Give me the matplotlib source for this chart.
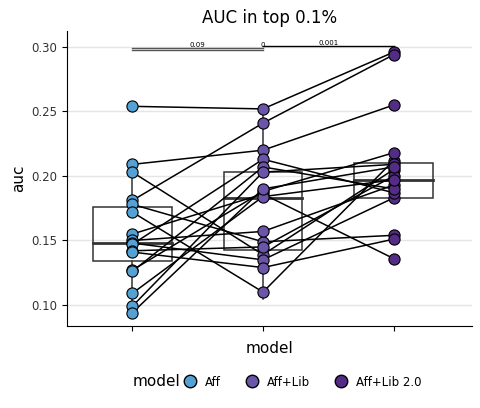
import matplotlib
matplotlib.use("Agg")
import matplotlib.pyplot as plt
import numpy as np
from matplotlib.lines import Line2D

models = ["Aff", "Aff+Lib", "Aff+Lib 2.0"]
colors = ["#56A1D3", "#6A55A8", "#522C85"]
aff    = [0.254, 0.209, 0.203, 0.181, 0.178, 0.172, 0.155, 0.150, 0.148, 0.147, 0.142, 0.141, 0.127, 0.126, 0.109, 0.099, 0.094]
afflib = [0.252, 0.220, 0.139, 0.241, 0.149, 0.110, 0.186, 0.157, 0.135, 0.213, 0.145, 0.129, 0.188, 0.207, 0.184, 0.203, 0.190]
afflib2= [0.296, 0.255, 0.205, 0.294, 0.154, 0.212, 0.136, 0.193, 0.183, 0.187, 0.200, 0.151, 0.218, 0.190, 0.197, 0.209, 0.207]
boxes = [(0.134, 0.148, 0.176, 0.094, 0.209), (0.143, 0.183, 0.203, 0.105, 0.252), (0.183, 0.197, 0.210, 0.183, 0.218)]
pvals = ["0.09", "0", "0.001"]

fig = plt.figure(figsize=(4.8, 4.08), dpi=100)
ax = fig.add_axes([67/480, 1-326/408, 405/480, 295/408])
data = [aff, afflib, afflib2]
xs = [1, 2, 3]
for i in range(len(aff)):
    ax.plot(xs, [aff[i], afflib[i], afflib2[i]], color="black", lw=1.1, zorder=3)
for j, (q1, med, q3, lo, hi) in enumerate(boxes):
    x = xs[j]
    ax.add_patch(plt.Rectangle((x-0.3, q1), 0.6, q3-q1, fill=False, ec="#333333", lw=1.1, zorder=2))
    ax.plot([x-0.3, x+0.3], [med, med], color="#333333", lw=2, zorder=2)
    ax.plot([x, x], [lo, q1], color="#333333", lw=1.1, zorder=2)
    ax.plot([x, x], [q3, hi], color="#333333", lw=1.1, zorder=2)
for j, d in enumerate(data):
    ax.scatter([xs[j]]*len(d), d, s=65, color=colors[j], ec="black", lw=0.8, zorder=4)
# significance
ax.plot([1, 2], [0.2975, 0.2975], color="#555555", lw=1)
ax.plot([1, 2], [0.2990, 0.2990], color="#555555", lw=1)
ax.text(1.5, 0.2990, pvals[0], fontsize=5, ha="center", va="bottom")
ax.plot([2, 3], [0.3005, 0.3005], color="black", lw=1)
ax.text(2.0, 0.2995, pvals[1], fontsize=5, ha="center", va="bottom")
ax.text(2.5, 0.3005, pvals[2], fontsize=5, ha="center", va="bottom")

ax.set_xlim(0.5, 3.6)
ax.set_ylim(0.0837, 0.3124)
ax.set_xticks(xs)
ax.set_xticklabels([])
ax.set_yticks([0.10, 0.15, 0.20, 0.25, 0.30])
ax.set_yticklabels(["0.10", "0.15", "0.20", "0.25", "0.30"], fontsize=8.5, color="#333333")
ax.grid(axis="y", color="#E5E5E5", lw=1)
ax.set_axisbelow(True)
for s in ["top", "right"]:
    ax.spines[s].set_visible(False)
ax.set_xlabel("model", fontsize=11)
ax.set_ylabel("auc", fontsize=11)
ax.set_title("AUC in top 0.1%", fontsize=12)
handles = [Line2D([], [], marker="o", ls="", markersize=9, markerfacecolor=c, markeredgecolor="black") for c in colors]
fig.text(133/480, 1-382/408, "model", fontsize=11, va="center", ha="left")
fig.legend(handles, models, loc="center left", bbox_to_anchor=(178/480, 1-382/408), ncol=3, frameon=False,
           fontsize=8.5, handletextpad=0.3, columnspacing=1.6, borderaxespad=0, borderpad=0)
fig.savefig("out.png", dpi=100)
